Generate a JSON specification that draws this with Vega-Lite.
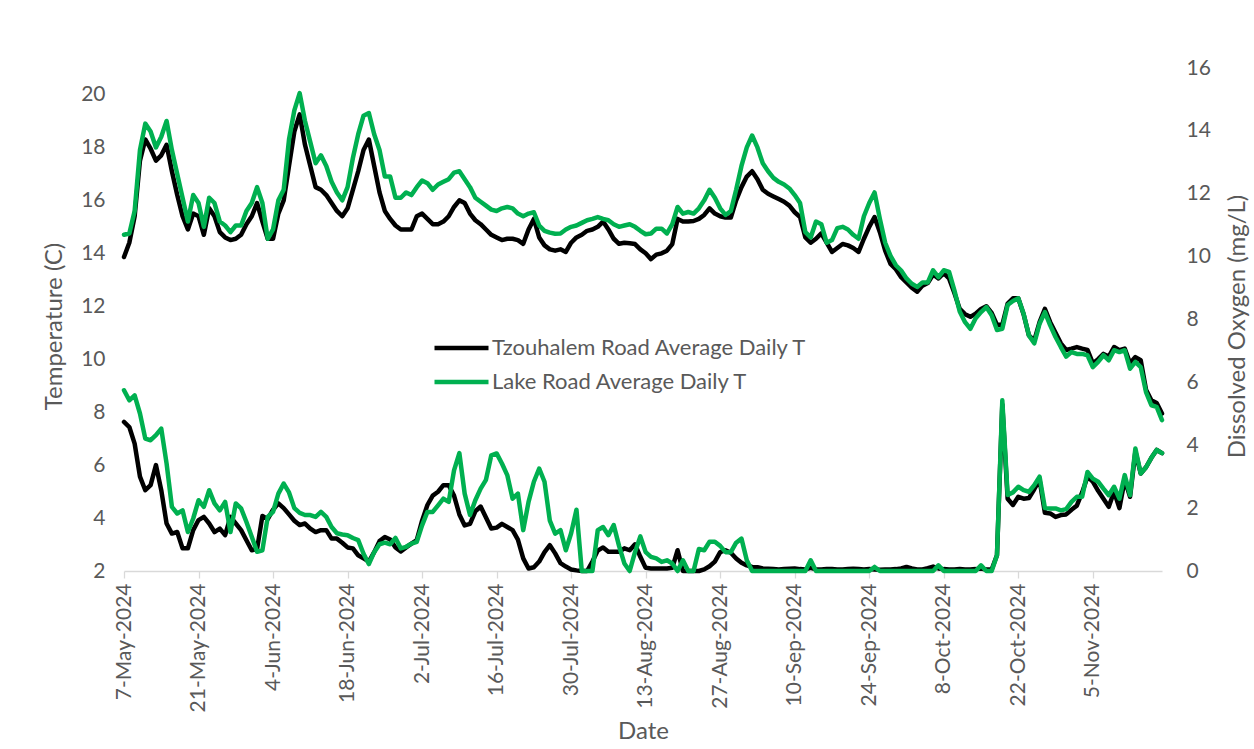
{
  "$schema": "https://vega.github.io/schema/vega-lite/v6.json",
  "width": 1038,
  "height": 503,
  "autosize": {"type": "none"},
  "padding": {"left": 124, "top": 68, "right": 92, "bottom": 178},
  "background": "#ffffff",
  "config": {
    "view": {"stroke": null},
    "font": "Lato",
    "axis": {"grid": false, "labelFont": "Lato", "titleFont": "Lato", "labelColor": "#595959", "titleColor": "#595959", "labelFontSize": 21, "titleFontSize": 24, "titleFontWeight": "normal"}
  },
  "data": {"values": [
{"date":"2024-05-07","tt":13.86,"lt":14.7,"td":4.74,"ld":5.75},
{"date":"2024-05-08","tt":14.4,"lt":14.75,"td":4.58,"ld":5.43},
{"date":"2024-05-09","tt":15.4,"lt":15.6,"td":4.05,"ld":5.59},
{"date":"2024-05-10","tt":17.5,"lt":17.9,"td":3.0,"ld":5.01},
{"date":"2024-05-11","tt":18.3,"lt":18.9,"td":2.57,"ld":4.21},
{"date":"2024-05-12","tt":17.95,"lt":18.6,"td":2.73,"ld":4.16},
{"date":"2024-05-13","tt":17.5,"lt":18.0,"td":3.37,"ld":4.32},
{"date":"2024-05-14","tt":17.7,"lt":18.4,"td":2.57,"ld":4.53},
{"date":"2024-05-15","tt":18.1,"lt":19.0,"td":1.51,"ld":3.42},
{"date":"2024-05-16","tt":17.1,"lt":17.9,"td":1.19,"ld":2.04},
{"date":"2024-05-17","tt":16.2,"lt":17.0,"td":1.24,"ld":1.83},
{"date":"2024-05-18","tt":15.4,"lt":16.1,"td":0.72,"ld":1.93},
{"date":"2024-05-19","tt":14.9,"lt":15.2,"td":0.72,"ld":1.24},
{"date":"2024-05-20","tt":15.5,"lt":16.2,"td":1.3,"ld":1.67},
{"date":"2024-05-21","tt":15.4,"lt":15.9,"td":1.62,"ld":2.25},
{"date":"2024-05-22","tt":14.7,"lt":15.0,"td":1.72,"ld":2.04},
{"date":"2024-05-23","tt":15.7,"lt":16.1,"td":1.51,"ld":2.57},
{"date":"2024-05-24","tt":15.4,"lt":15.9,"td":1.24,"ld":2.15},
{"date":"2024-05-25","tt":14.8,"lt":15.2,"td":1.35,"ld":1.93},
{"date":"2024-05-26","tt":14.6,"lt":15.05,"td":1.14,"ld":2.2},
{"date":"2024-05-27","tt":14.5,"lt":14.8,"td":1.72,"ld":1.24},
{"date":"2024-05-28","tt":14.55,"lt":15.05,"td":1.51,"ld":2.15},
{"date":"2024-05-29","tt":14.7,"lt":15.05,"td":1.3,"ld":1.99},
{"date":"2024-05-30","tt":15.1,"lt":15.6,"td":0.98,"ld":1.56},
{"date":"2024-05-31","tt":15.4,"lt":15.9,"td":0.66,"ld":1.09},
{"date":"2024-06-01","tt":15.9,"lt":16.5,"td":0.7,"ld":0.61},
{"date":"2024-06-02","tt":15.2,"lt":15.9,"td":1.75,"ld":0.66},
{"date":"2024-06-03","tt":14.55,"lt":14.55,"td":1.65,"ld":1.72},
{"date":"2024-06-04","tt":14.55,"lt":14.9,"td":1.95,"ld":1.88},
{"date":"2024-06-05","tt":15.5,"lt":16.0,"td":2.15,"ld":2.46},
{"date":"2024-06-06","tt":16.0,"lt":16.4,"td":2.0,"ld":2.78},
{"date":"2024-06-07","tt":17.3,"lt":18.3,"td":1.8,"ld":2.5},
{"date":"2024-06-08","tt":18.6,"lt":19.4,"td":1.6,"ld":2.0},
{"date":"2024-06-09","tt":19.25,"lt":20.05,"td":1.46,"ld":1.85},
{"date":"2024-06-10","tt":18.1,"lt":19.0,"td":1.51,"ld":1.78},
{"date":"2024-06-11","tt":17.3,"lt":18.2,"td":1.35,"ld":1.78},
{"date":"2024-06-12","tt":16.5,"lt":17.4,"td":1.24,"ld":1.72},
{"date":"2024-06-13","tt":16.4,"lt":17.7,"td":1.3,"ld":1.88},
{"date":"2024-06-14","tt":16.2,"lt":17.3,"td":1.3,"ld":1.72},
{"date":"2024-06-15","tt":15.9,"lt":16.7,"td":1.03,"ld":1.4},
{"date":"2024-06-16","tt":15.6,"lt":16.3,"td":1.03,"ld":1.2},
{"date":"2024-06-17","tt":15.4,"lt":16.0,"td":0.9,"ld":1.16},
{"date":"2024-06-18","tt":15.7,"lt":16.5,"td":0.75,"ld":1.14},
{"date":"2024-06-19","tt":16.4,"lt":17.6,"td":0.72,"ld":1.05},
{"date":"2024-06-20","tt":17.1,"lt":18.5,"td":0.5,"ld":0.98},
{"date":"2024-06-21","tt":17.9,"lt":19.2,"td":0.4,"ld":0.55},
{"date":"2024-06-22","tt":18.3,"lt":19.3,"td":0.3,"ld":0.22},
{"date":"2024-06-23","tt":17.3,"lt":18.5,"td":0.6,"ld":0.6},
{"date":"2024-06-24","tt":16.3,"lt":17.9,"td":0.95,"ld":0.85},
{"date":"2024-06-25","tt":15.6,"lt":16.9,"td":1.08,"ld":0.9},
{"date":"2024-06-26","tt":15.3,"lt":16.9,"td":1.0,"ld":0.85},
{"date":"2024-06-27","tt":15.05,"lt":16.1,"td":0.75,"ld":1.05},
{"date":"2024-06-28","tt":14.9,"lt":16.1,"td":0.62,"ld":0.72},
{"date":"2024-06-29","tt":14.9,"lt":16.3,"td":0.75,"ld":0.77},
{"date":"2024-06-30","tt":14.9,"lt":16.2,"td":0.87,"ld":0.87},
{"date":"2024-07-01","tt":15.4,"lt":16.5,"td":0.98,"ld":0.93},
{"date":"2024-07-02","tt":15.5,"lt":16.75,"td":1.6,"ld":1.45},
{"date":"2024-07-03","tt":15.3,"lt":16.65,"td":2.1,"ld":1.88},
{"date":"2024-07-04","tt":15.1,"lt":16.4,"td":2.4,"ld":1.88},
{"date":"2024-07-05","tt":15.1,"lt":16.6,"td":2.52,"ld":2.09},
{"date":"2024-07-06","tt":15.2,"lt":16.7,"td":2.73,"ld":2.3},
{"date":"2024-07-07","tt":15.4,"lt":16.8,"td":2.73,"ld":2.2},
{"date":"2024-07-08","tt":15.75,"lt":17.05,"td":2.4,"ld":3.2},
{"date":"2024-07-09","tt":16.0,"lt":17.1,"td":1.8,"ld":3.75},
{"date":"2024-07-10","tt":15.9,"lt":16.8,"td":1.45,"ld":2.46},
{"date":"2024-07-11","tt":15.5,"lt":16.5,"td":1.5,"ld":1.78},
{"date":"2024-07-12","tt":15.25,"lt":16.1,"td":1.9,"ld":2.25},
{"date":"2024-07-13","tt":15.1,"lt":15.95,"td":2.05,"ld":2.62},
{"date":"2024-07-14","tt":14.9,"lt":15.8,"td":1.7,"ld":2.9},
{"date":"2024-07-15","tt":14.7,"lt":15.65,"td":1.35,"ld":3.68},
{"date":"2024-07-16","tt":14.6,"lt":15.6,"td":1.38,"ld":3.74},
{"date":"2024-07-17","tt":14.5,"lt":15.7,"td":1.5,"ld":3.42},
{"date":"2024-07-18","tt":14.55,"lt":15.75,"td":1.4,"ld":3.05},
{"date":"2024-07-19","tt":14.55,"lt":15.7,"td":1.3,"ld":2.3},
{"date":"2024-07-20","tt":14.5,"lt":15.5,"td":1.0,"ld":2.46},
{"date":"2024-07-21","tt":14.36,"lt":15.4,"td":0.4,"ld":1.3},
{"date":"2024-07-22","tt":14.9,"lt":15.5,"td":0.08,"ld":2.2},
{"date":"2024-07-23","tt":15.3,"lt":15.55,"td":0.12,"ld":2.84},
{"date":"2024-07-24","tt":14.6,"lt":15.05,"td":0.3,"ld":3.26},
{"date":"2024-07-25","tt":14.3,"lt":14.85,"td":0.6,"ld":2.84},
{"date":"2024-07-26","tt":14.15,"lt":14.78,"td":0.82,"ld":1.6},
{"date":"2024-07-27","tt":14.1,"lt":14.74,"td":0.56,"ld":1.19},
{"date":"2024-07-28","tt":14.15,"lt":14.75,"td":0.25,"ld":1.3},
{"date":"2024-07-29","tt":14.05,"lt":14.9,"td":0.14,"ld":0.66},
{"date":"2024-07-30","tt":14.4,"lt":15.0,"td":0.05,"ld":1.2},
{"date":"2024-07-31","tt":14.6,"lt":15.05,"td":0.02,"ld":1.95},
{"date":"2024-08-01","tt":14.7,"lt":15.15,"td":0,"ld":0},
{"date":"2024-08-02","tt":14.85,"lt":15.25,"td":0,"ld":0},
{"date":"2024-08-03","tt":14.9,"lt":15.3,"td":0.3,"ld":0},
{"date":"2024-08-04","tt":15.0,"lt":15.37,"td":0.65,"ld":1.3},
{"date":"2024-08-05","tt":15.2,"lt":15.3,"td":0.75,"ld":1.4},
{"date":"2024-08-06","tt":14.9,"lt":15.25,"td":0.61,"ld":1.14},
{"date":"2024-08-07","tt":14.55,"lt":15.1,"td":0.61,"ld":1.46},
{"date":"2024-08-08","tt":14.36,"lt":15.0,"td":0.61,"ld":0.8},
{"date":"2024-08-09","tt":14.4,"lt":15.05,"td":0.72,"ld":0.24},
{"date":"2024-08-10","tt":14.38,"lt":15.1,"td":0.66,"ld":0},
{"date":"2024-08-11","tt":14.35,"lt":15.0,"td":0.85,"ld":0.6},
{"date":"2024-08-12","tt":14.15,"lt":14.85,"td":0.45,"ld":1.1},
{"date":"2024-08-13","tt":14.0,"lt":14.72,"td":0.1,"ld":0.6},
{"date":"2024-08-14","tt":13.78,"lt":14.75,"td":0.08,"ld":0.45},
{"date":"2024-08-15","tt":13.95,"lt":14.93,"td":0.08,"ld":0.4},
{"date":"2024-08-16","tt":14.0,"lt":14.93,"td":0.08,"ld":0.29},
{"date":"2024-08-17","tt":14.1,"lt":14.75,"td":0.08,"ld":0.34},
{"date":"2024-08-18","tt":14.35,"lt":15.1,"td":0.1,"ld":0.24},
{"date":"2024-08-19","tt":15.3,"lt":15.75,"td":0.66,"ld":0},
{"date":"2024-08-20","tt":15.2,"lt":15.5,"td":0,"ld":0.34},
{"date":"2024-08-21","tt":15.2,"lt":15.56,"td":0,"ld":0},
{"date":"2024-08-22","tt":15.22,"lt":15.5,"td":0,"ld":0},
{"date":"2024-08-23","tt":15.3,"lt":15.7,"td":0,"ld":0.7},
{"date":"2024-08-24","tt":15.45,"lt":16.0,"td":0.05,"ld":0.66},
{"date":"2024-08-25","tt":15.7,"lt":16.4,"td":0.15,"ld":0.93},
{"date":"2024-08-26","tt":15.5,"lt":16.1,"td":0.3,"ld":0.93},
{"date":"2024-08-27","tt":15.4,"lt":15.7,"td":0.6,"ld":0.8},
{"date":"2024-08-28","tt":15.35,"lt":15.45,"td":0.66,"ld":0.6},
{"date":"2024-08-29","tt":15.35,"lt":15.6,"td":0.58,"ld":0.6},
{"date":"2024-08-30","tt":16.0,"lt":16.4,"td":0.4,"ld":0.9},
{"date":"2024-08-31","tt":16.5,"lt":17.3,"td":0.26,"ld":1.03},
{"date":"2024-09-01","tt":16.9,"lt":18.0,"td":0.18,"ld":0.34},
{"date":"2024-09-02","tt":17.1,"lt":18.45,"td":0.13,"ld":0},
{"date":"2024-09-03","tt":16.8,"lt":18.0,"td":0.12,"ld":0},
{"date":"2024-09-04","tt":16.4,"lt":17.4,"td":0.08,"ld":0},
{"date":"2024-09-05","tt":16.25,"lt":17.1,"td":0.07,"ld":0},
{"date":"2024-09-06","tt":16.15,"lt":16.85,"td":0.06,"ld":0},
{"date":"2024-09-07","tt":16.05,"lt":16.7,"td":0.05,"ld":0},
{"date":"2024-09-08","tt":15.95,"lt":16.6,"td":0.06,"ld":0},
{"date":"2024-09-09","tt":15.8,"lt":16.45,"td":0.07,"ld":0},
{"date":"2024-09-10","tt":15.55,"lt":16.2,"td":0.08,"ld":0},
{"date":"2024-09-11","tt":15.37,"lt":15.9,"td":0.06,"ld":0},
{"date":"2024-09-12","tt":14.6,"lt":14.8,"td":0.05,"ld":0},
{"date":"2024-09-13","tt":14.4,"lt":14.6,"td":0.1,"ld":0.34},
{"date":"2024-09-14","tt":14.55,"lt":15.2,"td":0.05,"ld":0},
{"date":"2024-09-15","tt":14.75,"lt":15.1,"td":0.05,"ld":0},
{"date":"2024-09-16","tt":14.4,"lt":14.4,"td":0.06,"ld":0},
{"date":"2024-09-17","tt":14.05,"lt":14.5,"td":0.06,"ld":0},
{"date":"2024-09-18","tt":14.2,"lt":14.95,"td":0.05,"ld":0},
{"date":"2024-09-19","tt":14.35,"lt":15.0,"td":0.05,"ld":0},
{"date":"2024-09-20","tt":14.3,"lt":14.9,"td":0.06,"ld":0},
{"date":"2024-09-21","tt":14.2,"lt":14.7,"td":0.07,"ld":0},
{"date":"2024-09-22","tt":14.05,"lt":14.55,"td":0.06,"ld":0},
{"date":"2024-09-23","tt":14.55,"lt":15.4,"td":0.05,"ld":0},
{"date":"2024-09-24","tt":15.0,"lt":15.9,"td":0.06,"ld":0},
{"date":"2024-09-25","tt":15.37,"lt":16.3,"td":0.05,"ld":0.13},
{"date":"2024-09-26","tt":14.8,"lt":15.3,"td":0.04,"ld":0},
{"date":"2024-09-27","tt":14.1,"lt":14.4,"td":0.05,"ld":0},
{"date":"2024-09-28","tt":13.6,"lt":13.9,"td":0.05,"ld":0},
{"date":"2024-09-29","tt":13.4,"lt":13.55,"td":0.06,"ld":0},
{"date":"2024-09-30","tt":13.1,"lt":13.35,"td":0.08,"ld":0},
{"date":"2024-10-01","tt":12.9,"lt":13.05,"td":0.13,"ld":0},
{"date":"2024-10-02","tt":12.7,"lt":12.85,"td":0.08,"ld":0},
{"date":"2024-10-03","tt":12.55,"lt":12.73,"td":0.05,"ld":0},
{"date":"2024-10-04","tt":12.78,"lt":12.9,"td":0.05,"ld":0},
{"date":"2024-10-05","tt":12.88,"lt":12.9,"td":0.09,"ld":0},
{"date":"2024-10-06","tt":13.2,"lt":13.36,"td":0.14,"ld":0},
{"date":"2024-10-07","tt":13.05,"lt":13.1,"td":0.08,"ld":0.18},
{"date":"2024-10-08","tt":13.25,"lt":13.36,"td":0.06,"ld":0},
{"date":"2024-10-09","tt":13.05,"lt":13.3,"td":0.05,"ld":0},
{"date":"2024-10-10","tt":12.5,"lt":12.6,"td":0.05,"ld":0},
{"date":"2024-10-11","tt":11.9,"lt":11.8,"td":0.06,"ld":0},
{"date":"2024-10-12","tt":11.7,"lt":11.4,"td":0.05,"ld":0},
{"date":"2024-10-13","tt":11.6,"lt":11.15,"td":0.05,"ld":0},
{"date":"2024-10-14","tt":11.72,"lt":11.55,"td":0.06,"ld":0},
{"date":"2024-10-15","tt":11.9,"lt":11.78,"td":0.08,"ld":0.18},
{"date":"2024-10-16","tt":12.0,"lt":11.97,"td":0.05,"ld":0},
{"date":"2024-10-17","tt":11.75,"lt":11.66,"td":0.05,"ld":0},
{"date":"2024-10-18","tt":11.3,"lt":11.1,"td":0.5,"ld":0.5},
{"date":"2024-10-19","tt":11.3,"lt":11.15,"td":5.3,"ld":5.43},
{"date":"2024-10-20","tt":12.1,"lt":12.05,"td":2.3,"ld":2.42},
{"date":"2024-10-21","tt":12.3,"lt":12.2,"td":2.1,"ld":2.5},
{"date":"2024-10-22","tt":12.3,"lt":12.3,"td":2.36,"ld":2.68},
{"date":"2024-10-23","tt":11.7,"lt":11.72,"td":2.3,"ld":2.57},
{"date":"2024-10-24","tt":10.9,"lt":10.9,"td":2.32,"ld":2.52},
{"date":"2024-10-25","tt":10.7,"lt":10.6,"td":2.6,"ld":2.73},
{"date":"2024-10-26","tt":11.4,"lt":11.34,"td":2.9,"ld":3.0},
{"date":"2024-10-27","tt":11.9,"lt":11.78,"td":1.85,"ld":2.0},
{"date":"2024-10-28","tt":11.4,"lt":11.28,"td":1.83,"ld":1.99},
{"date":"2024-10-29","tt":11.0,"lt":10.84,"td":1.72,"ld":1.99},
{"date":"2024-10-30","tt":10.6,"lt":10.46,"td":1.78,"ld":1.93},
{"date":"2024-10-31","tt":10.35,"lt":10.1,"td":1.8,"ld":1.97},
{"date":"2024-11-01","tt":10.4,"lt":10.27,"td":1.95,"ld":2.2},
{"date":"2024-11-02","tt":10.46,"lt":10.2,"td":2.08,"ld":2.36},
{"date":"2024-11-03","tt":10.4,"lt":10.2,"td":2.5,"ld":2.36},
{"date":"2024-11-04","tt":10.35,"lt":10.15,"td":3.0,"ld":3.15},
{"date":"2024-11-05","tt":9.85,"lt":9.7,"td":2.84,"ld":2.94},
{"date":"2024-11-06","tt":10.0,"lt":9.9,"td":2.55,"ld":2.84},
{"date":"2024-11-07","tt":10.2,"lt":10.15,"td":2.3,"ld":2.62},
{"date":"2024-11-08","tt":10.1,"lt":9.96,"td":2.04,"ld":2.41},
{"date":"2024-11-09","tt":10.46,"lt":10.34,"td":2.52,"ld":2.68},
{"date":"2024-11-10","tt":10.34,"lt":10.27,"td":2.0,"ld":2.3},
{"date":"2024-11-11","tt":10.4,"lt":10.34,"td":2.9,"ld":3.05},
{"date":"2024-11-12","tt":9.85,"lt":9.64,"td":2.36,"ld":2.41},
{"date":"2024-11-13","tt":10.08,"lt":9.9,"td":3.8,"ld":3.9},
{"date":"2024-11-14","tt":9.96,"lt":9.7,"td":3.1,"ld":3.1},
{"date":"2024-11-15","tt":8.85,"lt":8.76,"td":3.3,"ld":3.3},
{"date":"2024-11-16","tt":8.45,"lt":8.26,"td":3.6,"ld":3.6},
{"date":"2024-11-17","tt":8.35,"lt":8.2,"td":3.85,"ld":3.85},
{"date":"2024-11-18","tt":7.95,"lt":7.7,"td":3.75,"ld":3.75}
  ]},
  "encoding": {
    "x": {
      "field": "date", "type": "temporal",
      "scale": {"type": "utc", "domain": [{"year": 2024, "month": 5, "date": 7, "utc": true}, {"year": 2024, "month": 11, "date": 18, "utc": true}]},
      "axis": {
        "values": [
          {"year": 2024, "month": 5, "date": 7, "utc": true},
          {"year": 2024, "month": 5, "date": 21, "utc": true},
          {"year": 2024, "month": 6, "date": 4, "utc": true},
          {"year": 2024, "month": 6, "date": 18, "utc": true},
          {"year": 2024, "month": 7, "date": 2, "utc": true},
          {"year": 2024, "month": 7, "date": 16, "utc": true},
          {"year": 2024, "month": 7, "date": 30, "utc": true},
          {"year": 2024, "month": 8, "date": 13, "utc": true},
          {"year": 2024, "month": 8, "date": 27, "utc": true},
          {"year": 2024, "month": 9, "date": 10, "utc": true},
          {"year": 2024, "month": 9, "date": 24, "utc": true},
          {"year": 2024, "month": 10, "date": 8, "utc": true},
          {"year": 2024, "month": 10, "date": 22, "utc": true},
          {"year": 2024, "month": 11, "date": 5, "utc": true}
        ],
        "labelExpr": "utcFormat(datum.value, '%-d-%b-%Y')",
        "labelAngle": 270, "labelAlign": "right", "labelBaseline": "middle",
        "labelPadding": 5, "tickSize": 7, "tickColor": "#d9d9d9", "domainColor": "#d9d9d9", "domainWidth": 1.3, "tickWidth": 1.3,
        "labelOverlap": false, "labelFlush": false, "labelBound": false, "labelLimit": 300,
        "title": "Date", "titleX": 519, "titleY": 160, "titleBaseline": "middle", "titleAlign": "center", "titleAnchor": null
      }
    }
  },
  "layer": [
    {
      "layer": [
        {
          "mark": {"type": "line", "strokeWidth": 4.5, "strokeCap": "round", "strokeJoin": "round"},
          "encoding": {
            "y": {"field": "tt", "type": "quantitative", "scale": {"domain": [2, 21], "nice": false, "zero": false},
              "axis": {"orient": "left", "values": [2, 4, 6, 8, 10, 12, 14, 16, 18, 20], "domain": false, "ticks": false, "labelPadding": 19, "title": "Temperature (C)", "titleAngle": 270, "titleX": -70, "titleY": 258, "titleBaseline": "middle", "titleAlign": "center"}},
            "color": {"datum": "Tzouhalem Road Average Daily T", "type": "nominal",
              "scale": {"domain": ["Tzouhalem Road Average Daily T", "Lake Road Average Daily T"], "range": ["#000000", "#00B050"]},
              "legend": {"orient": "none", "legendX": 308, "legendY": 263, "title": null, "symbolType": "stroke", "symbolSize": 2916, "symbolStrokeWidth": 4.5, "labelFont": "Lato", "labelFontSize": 22, "labelColor": "#595959", "labelOffset": 1, "labelLimit": 500, "rowPadding": 0, "clipHeight": 34, "padding": 0}}
          }
        },
        {
          "mark": {"type": "line", "strokeWidth": 4.5, "strokeCap": "round", "strokeJoin": "round"},
          "encoding": {
            "y": {"field": "lt", "type": "quantitative", "scale": {"domain": [2, 21], "nice": false, "zero": false},
              "axis": {"orient": "left", "values": [2, 4, 6, 8, 10, 12, 14, 16, 18, 20], "domain": false, "ticks": false, "labelPadding": 19, "title": "Temperature (C)", "titleAngle": 270, "titleX": -70, "titleY": 258, "titleBaseline": "middle", "titleAlign": "center"}},
            "color": {"datum": "Lake Road Average Daily T", "type": "nominal"}
          }
        }
      ]
    },
    {
      "layer": [
        {
          "mark": {"type": "line", "color": "#000000", "strokeWidth": 4.5, "strokeCap": "round", "strokeJoin": "round"},
          "encoding": {
            "y": {"field": "td", "type": "quantitative", "scale": {"domain": [0, 16], "nice": false},
              "axis": {"orient": "right", "values": [0, 2, 4, 6, 8, 10, 12, 14, 16], "domain": false, "ticks": false, "labelPadding": 24, "title": "Dissolved Oxygen (mg/L)", "titleAngle": 270, "titleX": 75, "titleY": 258, "titleBaseline": "middle", "titleAlign": "center"}}
          }
        },
        {
          "mark": {"type": "line", "color": "#00B050", "strokeWidth": 4.5, "strokeCap": "round", "strokeJoin": "round"},
          "encoding": {
            "y": {"field": "ld", "type": "quantitative", "scale": {"domain": [0, 16], "nice": false},
              "axis": {"orient": "right", "values": [0, 2, 4, 6, 8, 10, 12, 14, 16], "domain": false, "ticks": false, "labelPadding": 24, "title": "Dissolved Oxygen (mg/L)", "titleAngle": 270, "titleX": 75, "titleY": 258, "titleBaseline": "middle", "titleAlign": "center"}}
          }
        }
      ]
    }
  ],
  "resolve": {"scale": {"y": "independent"}}
}
